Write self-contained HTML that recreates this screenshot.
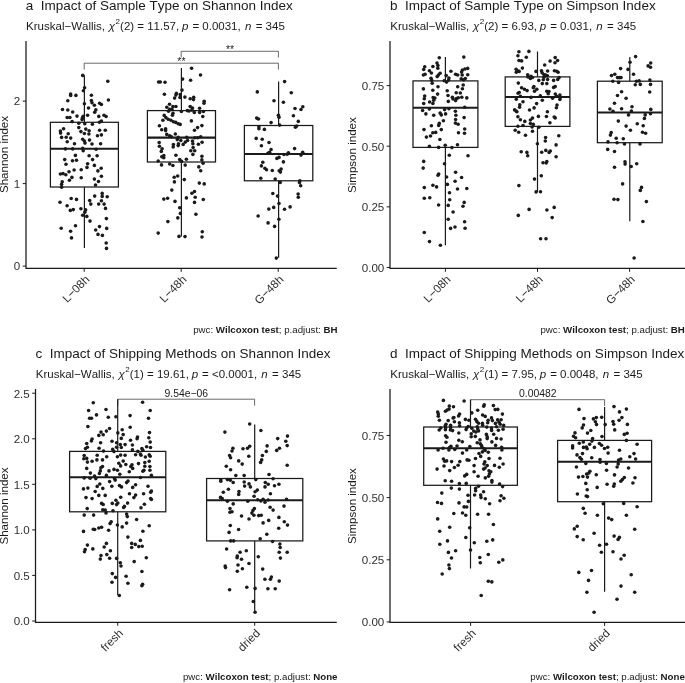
<!DOCTYPE html>
<html><head><meta charset="utf-8"><title>Alpha diversity</title>
<style>html,body{margin:0;padding:0;background:#fff}svg{display:block;will-change:transform}text{font-family:"Liberation Sans", sans-serif;fill:#1a1a1a;font-kerning:none}.ti{font-size:13.5px}.su{font-size:11.5px}.ax{font-size:11.6px;fill:#303030}.yl{font-size:11.55px}.cp{font-size:9.7px}.br{font-size:10.4px}.ln{stroke:#1a1a1a;fill:none}.d{fill:#1a1a1a}</style></head><body>
<svg width="685" height="683" viewBox="0 0 685 683">
<rect x="0" y="0" width="685" height="683" fill="#ffffff"/>
<g id="panel-a">
<text class="ti" x="25.7" y="9.6" xml:space="preserve">a  Impact of Sample Type on Shannon Index</text>
<text class="su" x="26.1" y="29.7" xml:space="preserve">Kruskal−Wallis, <tspan dx="0.6" font-style="italic">χ</tspan><tspan dx="0.5" dy="-5.7" font-size="8px">2</tspan><tspan dx="0.0" dy="5.7">(2) = 11.57, </tspan><tspan dx="-0.4" font-style="italic">p</tspan><tspan dx="0.8"> = 0.0031, </tspan><tspan dx="1.0" font-style="italic">n</tspan><tspan dx="1.2"> = 345</tspan></text>
<path class="ln" stroke-width="1.2" d="M84.4 75.3V122.3M84.4 187.0V248.1"/>
<rect class="ln" stroke-width="1.25" x="50.4" y="122.3" width="68.0" height="64.7" fill="#fff"/>
<path class="ln" stroke-width="2.1" d="M50.4 148.7H118.4"/>
<path class="ln" stroke-width="1.2" d="M181.4 68.0V110.6M181.4 162.0V236.6"/>
<rect class="ln" stroke-width="1.25" x="147.4" y="110.6" width="68.1" height="51.4" fill="#fff"/>
<path class="ln" stroke-width="2.1" d="M147.4 137.6H215.5"/>
<path class="ln" stroke-width="1.2" d="M278.6 81.6V125.5M278.6 180.85V257.7"/>
<rect class="ln" stroke-width="1.25" x="244.4" y="125.5" width="68.4" height="55.3" fill="#fff"/>
<path class="ln" stroke-width="2.1" d="M244.4 154.0H312.8"/>
<g class="d"><circle cx="82.7" cy="75.4" r="1.8"/><circle cx="107.8" cy="81.2" r="1.8"/><circle cx="84.6" cy="87.7" r="1.8"/><circle cx="83.4" cy="90.7" r="1.8"/><circle cx="70.6" cy="94.1" r="1.8"/><circle cx="70.7" cy="95.5" r="1.8"/><circle cx="75.9" cy="95.4" r="1.8"/><circle cx="91.4" cy="95.2" r="1.8"/><circle cx="67.8" cy="100.7" r="1.8"/><circle cx="108.4" cy="100.0" r="1.8"/><circle cx="91.4" cy="100.5" r="1.8"/><circle cx="92.0" cy="102.7" r="1.8"/><circle cx="94.4" cy="105.2" r="1.8"/><circle cx="99.6" cy="103.2" r="1.8"/><circle cx="101.4" cy="104.5" r="1.8"/><circle cx="84.4" cy="103.8" r="1.8"/><circle cx="88.5" cy="108.0" r="1.8"/><circle cx="62.5" cy="109.5" r="1.8"/><circle cx="67.8" cy="110.0" r="1.8"/><circle cx="72.7" cy="112.0" r="1.8"/><circle cx="95.8" cy="109.9" r="1.8"/><circle cx="94.7" cy="112.3" r="1.8"/><circle cx="87.6" cy="115.3" r="1.8"/><circle cx="77.0" cy="116.1" r="1.8"/><circle cx="83.2" cy="116.4" r="1.8"/><circle cx="82.4" cy="117.9" r="1.8"/><circle cx="67.2" cy="117.5" r="1.8"/><circle cx="69.9" cy="117.5" r="1.8"/><circle cx="98.8" cy="116.4" r="1.8"/><circle cx="104.0" cy="115.2" r="1.8"/><circle cx="106.1" cy="116.5" r="1.8"/><circle cx="82.1" cy="119.6" r="1.8"/><circle cx="101.4" cy="121.0" r="1.8"/><circle cx="72.1" cy="121.6" r="1.8"/><circle cx="99.4" cy="122.2" r="1.8"/><circle cx="78.8" cy="123.2" r="1.8"/><circle cx="84.8" cy="123.7" r="1.8"/><circle cx="92.4" cy="124.3" r="1.8"/><circle cx="63.6" cy="128.7" r="1.8"/><circle cx="78.8" cy="127.6" r="1.8"/><circle cx="85.8" cy="129.1" r="1.8"/><circle cx="60.4" cy="131.0" r="1.8"/><circle cx="60.6" cy="133.1" r="1.8"/><circle cx="80.9" cy="131.6" r="1.8"/><circle cx="89.1" cy="130.8" r="1.8"/><circle cx="99.6" cy="130.2" r="1.8"/><circle cx="105.3" cy="130.2" r="1.8"/><circle cx="68.2" cy="133.7" r="1.8"/><circle cx="84.4" cy="133.5" r="1.8"/><circle cx="88.9" cy="134.0" r="1.8"/><circle cx="101.4" cy="134.9" r="1.8"/><circle cx="97.5" cy="135.8" r="1.8"/><circle cx="61.6" cy="137.4" r="1.8"/><circle cx="66.2" cy="137.2" r="1.8"/><circle cx="70.7" cy="138.1" r="1.8"/><circle cx="67.2" cy="141.7" r="1.8"/><circle cx="82.7" cy="139.3" r="1.8"/><circle cx="84.4" cy="141.1" r="1.8"/><circle cx="89.5" cy="140.1" r="1.8"/><circle cx="74.5" cy="143.7" r="1.8"/><circle cx="85.0" cy="143.1" r="1.8"/><circle cx="92.0" cy="144.0" r="1.8"/><circle cx="100.6" cy="143.7" r="1.8"/><circle cx="65.4" cy="148.9" r="1.8"/><circle cx="72.7" cy="148.9" r="1.8"/><circle cx="82.7" cy="148.4" r="1.8"/><circle cx="83.2" cy="150.7" r="1.8"/><circle cx="96.1" cy="149.3" r="1.8"/><circle cx="75.4" cy="155.4" r="1.8"/><circle cx="89.1" cy="155.7" r="1.8"/><circle cx="97.1" cy="155.7" r="1.8"/><circle cx="64.7" cy="159.6" r="1.8"/><circle cx="72.5" cy="160.8" r="1.8"/><circle cx="76.5" cy="160.2" r="1.8"/><circle cx="92.6" cy="159.6" r="1.8"/><circle cx="66.0" cy="164.2" r="1.8"/><circle cx="87.6" cy="163.7" r="1.8"/><circle cx="94.4" cy="165.4" r="1.8"/><circle cx="87.0" cy="167.4" r="1.8"/><circle cx="101.2" cy="168.2" r="1.8"/><circle cx="74.1" cy="170.0" r="1.8"/><circle cx="81.2" cy="169.8" r="1.8"/><circle cx="69.0" cy="171.8" r="1.8"/><circle cx="97.9" cy="170.9" r="1.8"/><circle cx="60.4" cy="174.0" r="1.8"/><circle cx="63.0" cy="173.6" r="1.8"/><circle cx="65.8" cy="174.8" r="1.8"/><circle cx="71.9" cy="177.4" r="1.8"/><circle cx="81.2" cy="177.7" r="1.8"/><circle cx="101.4" cy="176.2" r="1.8"/><circle cx="94.4" cy="179.1" r="1.8"/><circle cx="69.4" cy="180.3" r="1.8"/><circle cx="98.5" cy="181.5" r="1.8"/><circle cx="62.2" cy="181.8" r="1.8"/><circle cx="61.6" cy="184.4" r="1.8"/><circle cx="95.5" cy="185.0" r="1.8"/><circle cx="61.6" cy="187.3" r="1.8"/><circle cx="102.2" cy="193.4" r="1.8"/><circle cx="94.7" cy="196.1" r="1.8"/><circle cx="102.2" cy="196.4" r="1.8"/><circle cx="107.2" cy="196.7" r="1.8"/><circle cx="71.2" cy="198.5" r="1.8"/><circle cx="76.5" cy="199.4" r="1.8"/><circle cx="89.7" cy="200.6" r="1.8"/><circle cx="101.4" cy="200.8" r="1.8"/><circle cx="60.0" cy="202.3" r="1.8"/><circle cx="90.8" cy="204.1" r="1.8"/><circle cx="98.7" cy="204.1" r="1.8"/><circle cx="104.1" cy="204.1" r="1.8"/><circle cx="67.1" cy="205.8" r="1.8"/><circle cx="105.5" cy="208.4" r="1.8"/><circle cx="80.9" cy="208.8" r="1.8"/><circle cx="73.3" cy="209.6" r="1.8"/><circle cx="70.3" cy="210.4" r="1.8"/><circle cx="85.6" cy="209.9" r="1.8"/><circle cx="84.8" cy="212.3" r="1.8"/><circle cx="82.7" cy="215.2" r="1.8"/><circle cx="86.8" cy="216.4" r="1.8"/><circle cx="106.4" cy="218.6" r="1.8"/><circle cx="90.0" cy="221.1" r="1.8"/><circle cx="75.5" cy="225.7" r="1.8"/><circle cx="61.2" cy="228.2" r="1.8"/><circle cx="70.6" cy="231.2" r="1.8"/><circle cx="71.5" cy="237.9" r="1.8"/><circle cx="99.5" cy="226.6" r="1.8"/><circle cx="95.7" cy="230.0" r="1.8"/><circle cx="106.7" cy="228.4" r="1.8"/><circle cx="98.0" cy="234.4" r="1.8"/><circle cx="102.4" cy="235.4" r="1.8"/><circle cx="106.2" cy="243.0" r="1.8"/><circle cx="106.5" cy="248.4" r="1.8"/><circle cx="191.6" cy="68.2" r="1.8"/><circle cx="200.5" cy="75.0" r="1.8"/><circle cx="182.6" cy="79.1" r="1.8"/><circle cx="190.6" cy="80.3" r="1.8"/><circle cx="158.6" cy="82.0" r="1.8"/><circle cx="160.3" cy="82.0" r="1.8"/><circle cx="165.0" cy="82.2" r="1.8"/><circle cx="182.0" cy="90.1" r="1.8"/><circle cx="164.4" cy="94.2" r="1.8"/><circle cx="176.4" cy="93.4" r="1.8"/><circle cx="175.9" cy="95.1" r="1.8"/><circle cx="174.6" cy="98.1" r="1.8"/><circle cx="180.2" cy="94.5" r="1.8"/><circle cx="180.0" cy="97.5" r="1.8"/><circle cx="184.9" cy="97.1" r="1.8"/><circle cx="190.2" cy="98.7" r="1.8"/><circle cx="193.7" cy="97.2" r="1.8"/><circle cx="193.5" cy="99.6" r="1.8"/><circle cx="204.2" cy="101.2" r="1.8"/><circle cx="204.0" cy="103.3" r="1.8"/><circle cx="169.5" cy="104.3" r="1.8"/><circle cx="166.8" cy="107.2" r="1.8"/><circle cx="172.9" cy="106.6" r="1.8"/><circle cx="175.9" cy="106.5" r="1.8"/><circle cx="190.2" cy="106.6" r="1.8"/><circle cx="192.5" cy="108.0" r="1.8"/><circle cx="199.6" cy="108.3" r="1.8"/><circle cx="169.7" cy="109.2" r="1.8"/><circle cx="172.0" cy="109.4" r="1.8"/><circle cx="168.5" cy="111.2" r="1.8"/><circle cx="181.4" cy="111.5" r="1.8"/><circle cx="187.3" cy="110.6" r="1.8"/><circle cx="189.0" cy="111.0" r="1.8"/><circle cx="191.9" cy="110.1" r="1.8"/><circle cx="194.3" cy="112.4" r="1.8"/><circle cx="199.6" cy="112.4" r="1.8"/><circle cx="203.4" cy="111.5" r="1.8"/><circle cx="173.0" cy="113.3" r="1.8"/><circle cx="172.4" cy="115.3" r="1.8"/><circle cx="164.2" cy="115.4" r="1.8"/><circle cx="202.8" cy="116.5" r="1.8"/><circle cx="165.9" cy="117.6" r="1.8"/><circle cx="168.2" cy="119.2" r="1.8"/><circle cx="170.9" cy="120.3" r="1.8"/><circle cx="173.4" cy="121.7" r="1.8"/><circle cx="175.8" cy="122.4" r="1.8"/><circle cx="178.2" cy="123.8" r="1.8"/><circle cx="180.2" cy="124.4" r="1.8"/><circle cx="162.9" cy="120.3" r="1.8"/><circle cx="191.4" cy="120.9" r="1.8"/><circle cx="159.4" cy="125.8" r="1.8"/><circle cx="201.9" cy="125.6" r="1.8"/><circle cx="197.6" cy="127.6" r="1.8"/><circle cx="161.7" cy="129.7" r="1.8"/><circle cx="165.6" cy="128.9" r="1.8"/><circle cx="165.6" cy="130.6" r="1.8"/><circle cx="194.5" cy="130.3" r="1.8"/><circle cx="175.3" cy="134.0" r="1.8"/><circle cx="166.8" cy="134.4" r="1.8"/><circle cx="169.7" cy="135.9" r="1.8"/><circle cx="171.4" cy="136.7" r="1.8"/><circle cx="200.7" cy="136.7" r="1.8"/><circle cx="178.2" cy="137.3" r="1.8"/><circle cx="186.7" cy="137.3" r="1.8"/><circle cx="194.9" cy="137.7" r="1.8"/><circle cx="197.8" cy="137.7" r="1.8"/><circle cx="177.3" cy="139.6" r="1.8"/><circle cx="180.8" cy="140.5" r="1.8"/><circle cx="187.6" cy="140.5" r="1.8"/><circle cx="185.3" cy="142.1" r="1.8"/><circle cx="183.2" cy="144.4" r="1.8"/><circle cx="192.5" cy="141.1" r="1.8"/><circle cx="192.9" cy="143.8" r="1.8"/><circle cx="159.2" cy="142.5" r="1.8"/><circle cx="202.1" cy="142.3" r="1.8"/><circle cx="198.4" cy="144.3" r="1.8"/><circle cx="173.4" cy="144.6" r="1.8"/><circle cx="173.2" cy="147.0" r="1.8"/><circle cx="178.5" cy="143.8" r="1.8"/><circle cx="178.2" cy="145.6" r="1.8"/><circle cx="159.4" cy="146.2" r="1.8"/><circle cx="193.1" cy="147.6" r="1.8"/><circle cx="162.1" cy="148.7" r="1.8"/><circle cx="161.3" cy="151.4" r="1.8"/><circle cx="190.8" cy="150.7" r="1.8"/><circle cx="194.7" cy="150.8" r="1.8"/><circle cx="192.9" cy="154.4" r="1.8"/><circle cx="175.9" cy="155.2" r="1.8"/><circle cx="163.8" cy="155.5" r="1.8"/><circle cx="161.8" cy="156.7" r="1.8"/><circle cx="163.8" cy="157.8" r="1.8"/><circle cx="201.9" cy="156.3" r="1.8"/><circle cx="186.4" cy="159.3" r="1.8"/><circle cx="179.7" cy="159.6" r="1.8"/><circle cx="201.9" cy="159.9" r="1.8"/><circle cx="158.2" cy="161.0" r="1.8"/><circle cx="181.6" cy="161.4" r="1.8"/><circle cx="203.1" cy="163.2" r="1.8"/><circle cx="161.5" cy="164.9" r="1.8"/><circle cx="169.7" cy="164.0" r="1.8"/><circle cx="172.9" cy="165.5" r="1.8"/><circle cx="185.2" cy="165.1" r="1.8"/><circle cx="198.8" cy="166.9" r="1.8"/><circle cx="200.7" cy="170.8" r="1.8"/><circle cx="177.7" cy="176.0" r="1.8"/><circle cx="174.2" cy="177.2" r="1.8"/><circle cx="184.3" cy="179.6" r="1.8"/><circle cx="174.4" cy="181.9" r="1.8"/><circle cx="199.3" cy="183.1" r="1.8"/><circle cx="204.2" cy="183.9" r="1.8"/><circle cx="171.8" cy="190.1" r="1.8"/><circle cx="194.5" cy="191.5" r="1.8"/><circle cx="191.9" cy="193.2" r="1.8"/><circle cx="167.6" cy="198.3" r="1.8"/><circle cx="163.8" cy="199.1" r="1.8"/><circle cx="186.4" cy="197.9" r="1.8"/><circle cx="195.2" cy="197.3" r="1.8"/><circle cx="203.3" cy="199.5" r="1.8"/><circle cx="175.0" cy="201.4" r="1.8"/><circle cx="194.5" cy="202.4" r="1.8"/><circle cx="179.7" cy="207.7" r="1.8"/><circle cx="180.4" cy="213.4" r="1.8"/><circle cx="195.9" cy="214.2" r="1.8"/><circle cx="177.8" cy="217.9" r="1.8"/><circle cx="167.9" cy="221.6" r="1.8"/><circle cx="158.2" cy="233.1" r="1.8"/><circle cx="202.3" cy="231.8" r="1.8"/><circle cx="179.0" cy="236.4" r="1.8"/><circle cx="185.0" cy="236.6" r="1.8"/><circle cx="202.0" cy="237.0" r="1.8"/><circle cx="284.6" cy="81.6" r="1.8"/><circle cx="257.3" cy="91.9" r="1.8"/><circle cx="291.3" cy="92.7" r="1.8"/><circle cx="274.0" cy="100.7" r="1.8"/><circle cx="283.4" cy="102.3" r="1.8"/><circle cx="302.8" cy="106.8" r="1.8"/><circle cx="301.0" cy="109.5" r="1.8"/><circle cx="295.0" cy="108.5" r="1.8"/><circle cx="278.4" cy="115.2" r="1.8"/><circle cx="279.0" cy="117.3" r="1.8"/><circle cx="293.4" cy="115.8" r="1.8"/><circle cx="256.7" cy="118.1" r="1.8"/><circle cx="258.5" cy="119.0" r="1.8"/><circle cx="298.3" cy="121.4" r="1.8"/><circle cx="271.1" cy="122.6" r="1.8"/><circle cx="279.6" cy="125.1" r="1.8"/><circle cx="258.9" cy="126.7" r="1.8"/><circle cx="258.9" cy="128.8" r="1.8"/><circle cx="296.6" cy="126.1" r="1.8"/><circle cx="295.4" cy="127.2" r="1.8"/><circle cx="264.4" cy="129.4" r="1.8"/><circle cx="256.2" cy="138.4" r="1.8"/><circle cx="262.2" cy="139.2" r="1.8"/><circle cx="269.0" cy="142.5" r="1.8"/><circle cx="261.4" cy="145.7" r="1.8"/><circle cx="271.1" cy="149.5" r="1.8"/><circle cx="294.6" cy="148.6" r="1.8"/><circle cx="269.6" cy="152.2" r="1.8"/><circle cx="267.9" cy="153.3" r="1.8"/><circle cx="288.4" cy="152.7" r="1.8"/><circle cx="287.2" cy="154.2" r="1.8"/><circle cx="284.0" cy="154.5" r="1.8"/><circle cx="302.7" cy="152.2" r="1.8"/><circle cx="301.0" cy="155.1" r="1.8"/><circle cx="279.0" cy="157.4" r="1.8"/><circle cx="276.9" cy="158.4" r="1.8"/><circle cx="283.4" cy="161.9" r="1.8"/><circle cx="262.8" cy="162.3" r="1.8"/><circle cx="261.4" cy="165.9" r="1.8"/><circle cx="264.9" cy="168.2" r="1.8"/><circle cx="266.5" cy="169.7" r="1.8"/><circle cx="272.3" cy="170.5" r="1.8"/><circle cx="281.1" cy="169.1" r="1.8"/><circle cx="279.2" cy="170.7" r="1.8"/><circle cx="280.4" cy="172.1" r="1.8"/><circle cx="260.8" cy="178.2" r="1.8"/><circle cx="275.2" cy="179.1" r="1.8"/><circle cx="280.2" cy="182.4" r="1.8"/><circle cx="299.8" cy="180.8" r="1.8"/><circle cx="299.5" cy="182.6" r="1.8"/><circle cx="300.7" cy="185.8" r="1.8"/><circle cx="272.8" cy="193.5" r="1.8"/><circle cx="298.1" cy="194.0" r="1.8"/><circle cx="277.5" cy="196.1" r="1.8"/><circle cx="298.3" cy="197.2" r="1.8"/><circle cx="279.0" cy="203.5" r="1.8"/><circle cx="273.7" cy="207.4" r="1.8"/><circle cx="290.1" cy="206.9" r="1.8"/><circle cx="268.8" cy="209.1" r="1.8"/><circle cx="284.5" cy="209.2" r="1.8"/><circle cx="258.1" cy="216.0" r="1.8"/><circle cx="278.9" cy="219.2" r="1.8"/><circle cx="268.1" cy="222.9" r="1.8"/><circle cx="274.6" cy="226.4" r="1.8"/><circle cx="276.3" cy="258.1" r="1.8"/></g>
<path class="ln" stroke="#303030" stroke-width="1.25" d="M26.0 41.1V268.35M25.4 268.35H336.8"/>
<path class="ln" stroke-width="1" d="M22.7 266.1H26.0"/>
<text class="ax" x="20.3" y="270.4" text-anchor="end">0</text>
<path class="ln" stroke-width="1" d="M22.7 183.6H26.0"/>
<text class="ax" x="20.3" y="187.9" text-anchor="end">1</text>
<path class="ln" stroke-width="1" d="M22.7 101.1H26.0"/>
<text class="ax" x="20.3" y="105.4" text-anchor="end">2</text>
<path class="ln" stroke-width="1" d="M84.2 268.35V271.8"/>
<text class="ax" text-anchor="end" transform="translate(90.2,280.1) rotate(-45)">L−08h</text>
<path class="ln" stroke-width="1" d="M181.2 268.35V271.8"/>
<text class="ax" text-anchor="end" transform="translate(187.2,280.1) rotate(-45)">L−48h</text>
<path class="ln" stroke-width="1" d="M278.2 268.35V271.8"/>
<text class="ax" text-anchor="end" transform="translate(284.2,280.1) rotate(-45)">G−48h</text>
<text class="yl" text-anchor="middle" transform="translate(8.3,154.5) rotate(-90)">Shannon index</text>
<path class="ln" stroke-width="0.65" d="M84.2 69.6V63.2H278.4V69.6"/>
<text class="br" text-anchor="middle" x="181.4" y="65.2">**</text>
<path class="ln" stroke-width="0.65" d="M181.2 57.5V51.3H278.4V57.5"/>
<text class="br" text-anchor="middle" x="230.0" y="52.9">**</text>
<text class="cp" text-anchor="end" x="337.5" y="332.7" xml:space="preserve">pwc: <tspan font-weight="bold">Wilcoxon test</tspan>; p.adjust: <tspan font-weight="bold">BH</tspan></text>
</g>
<g id="panel-b">
<text class="ti" x="390.0" y="9.6" xml:space="preserve">b  Impact of Sample Type on Simpson Index</text>
<text class="su" x="390.3" y="29.7" xml:space="preserve">Kruskal−Wallis, <tspan dx="0.6" font-style="italic">χ</tspan><tspan dx="0.5" dy="-5.7" font-size="8px">2</tspan><tspan dx="0.0" dy="5.7">(2) = 6.93, </tspan><tspan dx="-0.4" font-style="italic">p</tspan><tspan dx="0.8"> = 0.031, </tspan><tspan dx="1.0" font-style="italic">n</tspan><tspan dx="1.2"> = 345</tspan></text>
<path class="ln" stroke-width="1.2" d="M445.4 57.1V80.9M445.4 147.4V245.3"/>
<rect class="ln" stroke-width="1.25" x="413.0" y="80.9" width="64.9" height="66.5" fill="#fff"/>
<path class="ln" stroke-width="2.1" d="M413.0 107.8H477.9"/>
<path class="ln" stroke-width="1.2" d="M537.5 51.5V76.9M537.5 126.4V191.7"/>
<rect class="ln" stroke-width="1.25" x="505.2" y="76.9" width="64.7" height="49.5" fill="#fff"/>
<path class="ln" stroke-width="2.1" d="M505.2 97.0H569.9"/>
<path class="ln" stroke-width="1.2" d="M629.8 56.9V81.2M629.8 142.7V221.2"/>
<rect class="ln" stroke-width="1.25" x="597.4" y="81.2" width="64.8" height="61.5" fill="#fff"/>
<path class="ln" stroke-width="2.1" d="M597.4 112.5H662.2"/>
<g class="d"><circle cx="439.3" cy="57.8" r="1.8"/><circle cx="463.8" cy="57.1" r="1.8"/><circle cx="437.0" cy="63.1" r="1.8"/><circle cx="437.9" cy="65.5" r="1.8"/><circle cx="437.8" cy="68.2" r="1.8"/><circle cx="432.9" cy="66.5" r="1.8"/><circle cx="424.7" cy="66.8" r="1.8"/><circle cx="423.7" cy="69.5" r="1.8"/><circle cx="429.4" cy="70.7" r="1.8"/><circle cx="431.4" cy="73.0" r="1.8"/><circle cx="423.4" cy="75.0" r="1.8"/><circle cx="425.1" cy="74.2" r="1.8"/><circle cx="440.1" cy="73.3" r="1.8"/><circle cx="438.4" cy="75.0" r="1.8"/><circle cx="437.2" cy="76.6" r="1.8"/><circle cx="450.9" cy="71.3" r="1.8"/><circle cx="467.7" cy="68.4" r="1.8"/><circle cx="465.0" cy="69.0" r="1.8"/><circle cx="462.4" cy="70.0" r="1.8"/><circle cx="461.6" cy="72.1" r="1.8"/><circle cx="455.6" cy="74.2" r="1.8"/><circle cx="457.7" cy="75.0" r="1.8"/><circle cx="462.2" cy="75.0" r="1.8"/><circle cx="467.7" cy="74.8" r="1.8"/><circle cx="465.3" cy="78.5" r="1.8"/><circle cx="463.6" cy="79.7" r="1.8"/><circle cx="461.2" cy="78.9" r="1.8"/><circle cx="431.0" cy="78.2" r="1.8"/><circle cx="431.7" cy="80.3" r="1.8"/><circle cx="432.2" cy="83.2" r="1.8"/><circle cx="446.2" cy="75.6" r="1.8"/><circle cx="448.9" cy="78.0" r="1.8"/><circle cx="448.6" cy="80.1" r="1.8"/><circle cx="446.6" cy="82.1" r="1.8"/><circle cx="444.2" cy="80.7" r="1.8"/><circle cx="463.2" cy="85.0" r="1.8"/><circle cx="462.4" cy="88.7" r="1.8"/><circle cx="457.7" cy="86.8" r="1.8"/><circle cx="438.0" cy="86.8" r="1.8"/><circle cx="423.4" cy="88.9" r="1.8"/><circle cx="432.8" cy="90.3" r="1.8"/><circle cx="447.2" cy="90.8" r="1.8"/><circle cx="456.2" cy="92.8" r="1.8"/><circle cx="460.3" cy="93.0" r="1.8"/><circle cx="437.6" cy="94.1" r="1.8"/><circle cx="448.0" cy="95.5" r="1.8"/><circle cx="424.7" cy="96.1" r="1.8"/><circle cx="424.3" cy="98.8" r="1.8"/><circle cx="452.4" cy="97.3" r="1.8"/><circle cx="453.0" cy="99.0" r="1.8"/><circle cx="456.5" cy="98.5" r="1.8"/><circle cx="458.3" cy="97.7" r="1.8"/><circle cx="455.6" cy="100.6" r="1.8"/><circle cx="461.8" cy="97.3" r="1.8"/><circle cx="466.8" cy="97.9" r="1.8"/><circle cx="433.1" cy="97.5" r="1.8"/><circle cx="434.9" cy="98.1" r="1.8"/><circle cx="433.7" cy="100.2" r="1.8"/><circle cx="429.6" cy="102.0" r="1.8"/><circle cx="432.9" cy="103.4" r="1.8"/><circle cx="423.7" cy="103.5" r="1.8"/><circle cx="448.3" cy="101.4" r="1.8"/><circle cx="464.7" cy="107.2" r="1.8"/><circle cx="448.9" cy="108.8" r="1.8"/><circle cx="444.6" cy="109.6" r="1.8"/><circle cx="429.4" cy="109.0" r="1.8"/><circle cx="422.6" cy="110.5" r="1.8"/><circle cx="425.9" cy="113.9" r="1.8"/><circle cx="455.4" cy="111.3" r="1.8"/><circle cx="433.7" cy="115.2" r="1.8"/><circle cx="440.1" cy="113.1" r="1.8"/><circle cx="441.3" cy="114.9" r="1.8"/><circle cx="445.6" cy="113.9" r="1.8"/><circle cx="455.9" cy="115.2" r="1.8"/><circle cx="464.1" cy="117.6" r="1.8"/><circle cx="455.6" cy="119.5" r="1.8"/><circle cx="443.4" cy="120.7" r="1.8"/><circle cx="439.3" cy="123.4" r="1.8"/><circle cx="455.4" cy="123.1" r="1.8"/><circle cx="458.1" cy="124.3" r="1.8"/><circle cx="438.7" cy="125.4" r="1.8"/><circle cx="431.4" cy="125.7" r="1.8"/><circle cx="424.0" cy="129.6" r="1.8"/><circle cx="441.3" cy="129.6" r="1.8"/><circle cx="464.7" cy="129.0" r="1.8"/><circle cx="435.7" cy="132.4" r="1.8"/><circle cx="432.8" cy="132.7" r="1.8"/><circle cx="458.5" cy="132.7" r="1.8"/><circle cx="464.5" cy="133.3" r="1.8"/><circle cx="430.5" cy="136.0" r="1.8"/><circle cx="426.4" cy="137.1" r="1.8"/><circle cx="439.9" cy="139.5" r="1.8"/><circle cx="457.5" cy="144.7" r="1.8"/><circle cx="445.2" cy="145.3" r="1.8"/><circle cx="429.4" cy="146.4" r="1.8"/><circle cx="438.6" cy="147.4" r="1.8"/><circle cx="451.9" cy="147.6" r="1.8"/><circle cx="449.3" cy="155.2" r="1.8"/><circle cx="468.0" cy="155.8" r="1.8"/><circle cx="423.7" cy="161.4" r="1.8"/><circle cx="444.5" cy="163.8" r="1.8"/><circle cx="423.2" cy="168.1" r="1.8"/><circle cx="455.6" cy="172.3" r="1.8"/><circle cx="438.7" cy="174.0" r="1.8"/><circle cx="438.0" cy="175.3" r="1.8"/><circle cx="446.6" cy="177.0" r="1.8"/><circle cx="461.6" cy="177.5" r="1.8"/><circle cx="455.1" cy="181.3" r="1.8"/><circle cx="447.4" cy="184.4" r="1.8"/><circle cx="432.9" cy="185.2" r="1.8"/><circle cx="436.6" cy="186.9" r="1.8"/><circle cx="424.3" cy="187.6" r="1.8"/><circle cx="457.5" cy="189.0" r="1.8"/><circle cx="466.8" cy="188.5" r="1.8"/><circle cx="449.5" cy="192.7" r="1.8"/><circle cx="424.3" cy="198.2" r="1.8"/><circle cx="429.8" cy="197.7" r="1.8"/><circle cx="449.7" cy="199.8" r="1.8"/><circle cx="464.2" cy="202.4" r="1.8"/><circle cx="438.6" cy="205.0" r="1.8"/><circle cx="448.2" cy="205.4" r="1.8"/><circle cx="463.0" cy="206.2" r="1.8"/><circle cx="453.1" cy="212.0" r="1.8"/><circle cx="448.2" cy="219.3" r="1.8"/><circle cx="464.6" cy="221.7" r="1.8"/><circle cx="455.0" cy="227.0" r="1.8"/><circle cx="450.6" cy="228.4" r="1.8"/><circle cx="465.1" cy="228.2" r="1.8"/><circle cx="424.3" cy="232.5" r="1.8"/><circle cx="429.5" cy="241.6" r="1.8"/><circle cx="440.4" cy="245.3" r="1.8"/><circle cx="518.9" cy="51.7" r="1.8"/><circle cx="528.9" cy="51.4" r="1.8"/><circle cx="517.9" cy="55.8" r="1.8"/><circle cx="526.3" cy="57.2" r="1.8"/><circle cx="519.0" cy="60.5" r="1.8"/><circle cx="521.6" cy="60.9" r="1.8"/><circle cx="555.2" cy="57.6" r="1.8"/><circle cx="557.6" cy="60.5" r="1.8"/><circle cx="550.1" cy="61.1" r="1.8"/><circle cx="555.0" cy="62.8" r="1.8"/><circle cx="544.7" cy="65.0" r="1.8"/><circle cx="522.4" cy="68.1" r="1.8"/><circle cx="516.1" cy="69.3" r="1.8"/><circle cx="517.9" cy="71.0" r="1.8"/><circle cx="516.3" cy="72.2" r="1.8"/><circle cx="519.2" cy="71.4" r="1.8"/><circle cx="536.0" cy="71.4" r="1.8"/><circle cx="541.5" cy="70.7" r="1.8"/><circle cx="542.1" cy="72.8" r="1.8"/><circle cx="547.6" cy="71.0" r="1.8"/><circle cx="554.4" cy="70.7" r="1.8"/><circle cx="556.7" cy="71.3" r="1.8"/><circle cx="558.1" cy="72.2" r="1.8"/><circle cx="527.7" cy="74.8" r="1.8"/><circle cx="528.0" cy="76.9" r="1.8"/><circle cx="531.0" cy="76.3" r="1.8"/><circle cx="530.4" cy="78.4" r="1.8"/><circle cx="532.5" cy="77.5" r="1.8"/><circle cx="543.9" cy="74.5" r="1.8"/><circle cx="545.6" cy="75.1" r="1.8"/><circle cx="543.9" cy="77.2" r="1.8"/><circle cx="547.4" cy="75.7" r="1.8"/><circle cx="559.1" cy="77.5" r="1.8"/><circle cx="557.7" cy="79.5" r="1.8"/><circle cx="538.8" cy="80.4" r="1.8"/><circle cx="543.3" cy="79.8" r="1.8"/><circle cx="547.6" cy="79.5" r="1.8"/><circle cx="553.6" cy="80.4" r="1.8"/><circle cx="518.3" cy="83.1" r="1.8"/><circle cx="542.3" cy="83.6" r="1.8"/><circle cx="546.8" cy="83.6" r="1.8"/><circle cx="533.9" cy="86.5" r="1.8"/><circle cx="533.3" cy="87.8" r="1.8"/><circle cx="555.2" cy="86.6" r="1.8"/><circle cx="553.6" cy="87.4" r="1.8"/><circle cx="521.6" cy="87.7" r="1.8"/><circle cx="524.5" cy="89.2" r="1.8"/><circle cx="527.1" cy="90.6" r="1.8"/><circle cx="536.8" cy="89.2" r="1.8"/><circle cx="534.5" cy="91.2" r="1.8"/><circle cx="546.8" cy="91.2" r="1.8"/><circle cx="548.9" cy="91.5" r="1.8"/><circle cx="548.2" cy="93.7" r="1.8"/><circle cx="519.2" cy="92.5" r="1.8"/><circle cx="518.1" cy="93.3" r="1.8"/><circle cx="540.3" cy="95.9" r="1.8"/><circle cx="520.4" cy="96.2" r="1.8"/><circle cx="531.0" cy="97.4" r="1.8"/><circle cx="555.3" cy="94.1" r="1.8"/><circle cx="556.7" cy="96.2" r="1.8"/><circle cx="559.9" cy="95.0" r="1.8"/><circle cx="560.2" cy="97.4" r="1.8"/><circle cx="559.9" cy="99.5" r="1.8"/><circle cx="552.6" cy="98.2" r="1.8"/><circle cx="516.3" cy="99.2" r="1.8"/><circle cx="542.3" cy="100.3" r="1.8"/><circle cx="523.0" cy="101.8" r="1.8"/><circle cx="536.6" cy="103.6" r="1.8"/><circle cx="519.8" cy="104.7" r="1.8"/><circle cx="519.6" cy="107.3" r="1.8"/><circle cx="557.0" cy="105.0" r="1.8"/><circle cx="556.4" cy="107.7" r="1.8"/><circle cx="534.1" cy="107.9" r="1.8"/><circle cx="529.5" cy="110.0" r="1.8"/><circle cx="514.6" cy="109.9" r="1.8"/><circle cx="516.1" cy="111.1" r="1.8"/><circle cx="516.9" cy="111.8" r="1.8"/><circle cx="547.4" cy="111.8" r="1.8"/><circle cx="517.9" cy="116.7" r="1.8"/><circle cx="538.4" cy="116.4" r="1.8"/><circle cx="546.4" cy="116.5" r="1.8"/><circle cx="554.2" cy="117.0" r="1.8"/><circle cx="555.2" cy="117.9" r="1.8"/><circle cx="532.5" cy="118.1" r="1.8"/><circle cx="520.4" cy="119.7" r="1.8"/><circle cx="530.4" cy="120.0" r="1.8"/><circle cx="524.8" cy="121.4" r="1.8"/><circle cx="549.9" cy="122.7" r="1.8"/><circle cx="530.4" cy="123.5" r="1.8"/><circle cx="533.3" cy="124.4" r="1.8"/><circle cx="523.0" cy="125.5" r="1.8"/><circle cx="517.9" cy="126.2" r="1.8"/><circle cx="532.1" cy="127.0" r="1.8"/><circle cx="538.8" cy="127.2" r="1.8"/><circle cx="515.2" cy="130.3" r="1.8"/><circle cx="518.7" cy="132.2" r="1.8"/><circle cx="532.5" cy="131.3" r="1.8"/><circle cx="525.5" cy="135.2" r="1.8"/><circle cx="558.8" cy="135.8" r="1.8"/><circle cx="545.6" cy="137.5" r="1.8"/><circle cx="545.3" cy="141.0" r="1.8"/><circle cx="537.4" cy="143.7" r="1.8"/><circle cx="556.1" cy="144.9" r="1.8"/><circle cx="545.8" cy="150.4" r="1.8"/><circle cx="550.3" cy="151.0" r="1.8"/><circle cx="549.1" cy="152.4" r="1.8"/><circle cx="521.2" cy="151.8" r="1.8"/><circle cx="526.9" cy="152.4" r="1.8"/><circle cx="541.7" cy="152.2" r="1.8"/><circle cx="527.7" cy="155.7" r="1.8"/><circle cx="556.1" cy="156.8" r="1.8"/><circle cx="546.8" cy="161.5" r="1.8"/><circle cx="546.2" cy="162.9" r="1.8"/><circle cx="543.0" cy="162.7" r="1.8"/><circle cx="541.3" cy="175.8" r="1.8"/><circle cx="534.5" cy="179.1" r="1.8"/><circle cx="518.9" cy="185.6" r="1.8"/><circle cx="536.1" cy="191.9" r="1.8"/><circle cx="540.5" cy="191.7" r="1.8"/><circle cx="554.2" cy="207.4" r="1.8"/><circle cx="529.1" cy="209.4" r="1.8"/><circle cx="546.9" cy="210.0" r="1.8"/><circle cx="518.3" cy="215.4" r="1.8"/><circle cx="552.2" cy="217.6" r="1.8"/><circle cx="540.6" cy="238.7" r="1.8"/><circle cx="546.0" cy="238.7" r="1.8"/><circle cx="635.6" cy="56.6" r="1.8"/><circle cx="630.0" cy="62.2" r="1.8"/><circle cx="650.7" cy="63.0" r="1.8"/><circle cx="648.1" cy="65.9" r="1.8"/><circle cx="650.5" cy="67.2" r="1.8"/><circle cx="620.6" cy="68.6" r="1.8"/><circle cx="628.0" cy="69.4" r="1.8"/><circle cx="633.5" cy="74.2" r="1.8"/><circle cx="614.8" cy="74.2" r="1.8"/><circle cx="611.5" cy="75.6" r="1.8"/><circle cx="617.5" cy="77.6" r="1.8"/><circle cx="619.2" cy="77.6" r="1.8"/><circle cx="621.0" cy="77.6" r="1.8"/><circle cx="612.8" cy="81.2" r="1.8"/><circle cx="618.6" cy="82.4" r="1.8"/><circle cx="649.9" cy="80.1" r="1.8"/><circle cx="636.4" cy="81.2" r="1.8"/><circle cx="639.1" cy="80.9" r="1.8"/><circle cx="635.3" cy="84.8" r="1.8"/><circle cx="640.3" cy="84.4" r="1.8"/><circle cx="650.5" cy="84.4" r="1.8"/><circle cx="621.6" cy="91.8" r="1.8"/><circle cx="649.7" cy="92.0" r="1.8"/><circle cx="617.5" cy="95.5" r="1.8"/><circle cx="626.1" cy="98.2" r="1.8"/><circle cx="614.5" cy="103.2" r="1.8"/><circle cx="632.0" cy="106.7" r="1.8"/><circle cx="609.9" cy="109.0" r="1.8"/><circle cx="621.6" cy="108.8" r="1.8"/><circle cx="650.8" cy="109.4" r="1.8"/><circle cx="613.0" cy="111.3" r="1.8"/><circle cx="631.4" cy="111.0" r="1.8"/><circle cx="628.5" cy="114.9" r="1.8"/><circle cx="645.2" cy="114.9" r="1.8"/><circle cx="650.5" cy="113.7" r="1.8"/><circle cx="644.4" cy="118.4" r="1.8"/><circle cx="618.3" cy="121.1" r="1.8"/><circle cx="637.3" cy="123.7" r="1.8"/><circle cx="626.1" cy="126.1" r="1.8"/><circle cx="643.2" cy="125.7" r="1.8"/><circle cx="630.4" cy="130.2" r="1.8"/><circle cx="642.5" cy="132.2" r="1.8"/><circle cx="645.6" cy="133.3" r="1.8"/><circle cx="611.2" cy="132.5" r="1.8"/><circle cx="610.4" cy="135.1" r="1.8"/><circle cx="616.2" cy="138.2" r="1.8"/><circle cx="623.3" cy="138.8" r="1.8"/><circle cx="608.0" cy="141.9" r="1.8"/><circle cx="617.1" cy="142.7" r="1.8"/><circle cx="624.5" cy="143.9" r="1.8"/><circle cx="640.0" cy="143.9" r="1.8"/><circle cx="607.7" cy="149.4" r="1.8"/><circle cx="614.5" cy="151.5" r="1.8"/><circle cx="625.0" cy="161.8" r="1.8"/><circle cx="625.1" cy="164.1" r="1.8"/><circle cx="636.7" cy="163.8" r="1.8"/><circle cx="631.2" cy="166.5" r="1.8"/><circle cx="614.5" cy="167.3" r="1.8"/><circle cx="622.6" cy="183.9" r="1.8"/><circle cx="641.5" cy="187.4" r="1.8"/><circle cx="640.3" cy="190.4" r="1.8"/><circle cx="614.0" cy="199.2" r="1.8"/><circle cx="617.9" cy="199.6" r="1.8"/><circle cx="646.4" cy="201.6" r="1.8"/><circle cx="642.9" cy="221.5" r="1.8"/><circle cx="634.1" cy="258.0" r="1.8"/></g>
<path class="ln" stroke="#303030" stroke-width="1.25" d="M390.0 41.1V268.35M389.4 268.35H686.0"/>
<path class="ln" stroke-width="1" d="M386.7 267.45H390.0"/>
<text class="ax" x="384.3" y="271.8" text-anchor="end">0.00</text>
<path class="ln" stroke-width="1" d="M386.7 206.85H390.0"/>
<text class="ax" x="384.3" y="211.2" text-anchor="end">0.25</text>
<path class="ln" stroke-width="1" d="M386.7 146.2H390.0"/>
<text class="ax" x="384.3" y="150.5" text-anchor="end">0.50</text>
<path class="ln" stroke-width="1" d="M386.7 85.6H390.0"/>
<text class="ax" x="384.3" y="89.9" text-anchor="end">0.75</text>
<path class="ln" stroke-width="1" d="M445.4 268.35V271.8"/>
<text class="ax" text-anchor="end" transform="translate(451.4,280.1) rotate(-45)">L−08h</text>
<path class="ln" stroke-width="1" d="M537.5 268.35V271.8"/>
<text class="ax" text-anchor="end" transform="translate(543.5,280.1) rotate(-45)">L−48h</text>
<path class="ln" stroke-width="1" d="M629.6 268.35V271.8"/>
<text class="ax" text-anchor="end" transform="translate(635.6,280.1) rotate(-45)">G−48h</text>
<text class="yl" text-anchor="middle" transform="translate(355.9,155.1) rotate(-90)">Simpson index</text>
<text class="cp" text-anchor="end" x="684.8" y="333.0" xml:space="preserve">pwc: <tspan font-weight="bold">Wilcoxon test</tspan>; p.adjust: <tspan font-weight="bold">BH</tspan></text>
</g>
<g id="panel-c">
<text class="ti" x="35.5" y="358.2" xml:space="preserve">c  Impact of Shipping Methods on Shannon Index</text>
<text class="su" x="35.8" y="377.7" xml:space="preserve">Kruskal−Wallis, <tspan dx="0.6" font-style="italic">χ</tspan><tspan dx="0.5" dy="-5.7" font-size="8px">2</tspan><tspan dx="0.0" dy="5.7">(1) = 19.61, </tspan><tspan dx="-0.4" font-style="italic">p</tspan><tspan dx="0.8"> = <0.0001, </tspan><tspan dx="1.0" font-style="italic">n</tspan><tspan dx="1.2"> = 345</tspan></text>
<path class="ln" stroke-width="1.2" d="M117.7 399.3V451.4M117.7 511.8V594.9"/>
<rect class="ln" stroke-width="1.25" x="69.6" y="451.4" width="96.2" height="60.4" fill="#fff"/>
<path class="ln" stroke-width="2.1" d="M69.6 477.2H165.8"/>
<path class="ln" stroke-width="1.2" d="M254.7 424.4V478.5M254.7 540.9V611.7"/>
<rect class="ln" stroke-width="1.25" x="206.6" y="478.5" width="96.2" height="62.4" fill="#fff"/>
<path class="ln" stroke-width="2.1" d="M206.6 500.3H302.8"/>
<g class="d"><circle cx="93.3" cy="402.7" r="1.8"/><circle cx="142.6" cy="402.2" r="1.8"/><circle cx="88.6" cy="410.5" r="1.8"/><circle cx="106.0" cy="409.5" r="1.8"/><circle cx="150.2" cy="410.5" r="1.8"/><circle cx="96.5" cy="414.9" r="1.8"/><circle cx="130.1" cy="415.6" r="1.8"/><circle cx="108.3" cy="417.3" r="1.8"/><circle cx="115.9" cy="416.8" r="1.8"/><circle cx="89.6" cy="418.3" r="1.8"/><circle cx="91.5" cy="418.3" r="1.8"/><circle cx="148.5" cy="418.3" r="1.8"/><circle cx="87.9" cy="426.6" r="1.8"/><circle cx="130.2" cy="427.3" r="1.8"/><circle cx="109.6" cy="428.5" r="1.8"/><circle cx="122.2" cy="429.7" r="1.8"/><circle cx="106.4" cy="431.1" r="1.8"/><circle cx="101.0" cy="432.1" r="1.8"/><circle cx="117.8" cy="432.9" r="1.8"/><circle cx="149.5" cy="432.6" r="1.8"/><circle cx="103.2" cy="434.8" r="1.8"/><circle cx="98.8" cy="435.4" r="1.8"/><circle cx="123.2" cy="434.6" r="1.8"/><circle cx="121.3" cy="438.4" r="1.8"/><circle cx="137.5" cy="437.0" r="1.8"/><circle cx="137.1" cy="438.7" r="1.8"/><circle cx="148.8" cy="437.7" r="1.8"/><circle cx="92.1" cy="439.0" r="1.8"/><circle cx="91.4" cy="440.9" r="1.8"/><circle cx="130.5" cy="440.2" r="1.8"/><circle cx="112.0" cy="441.3" r="1.8"/><circle cx="150.2" cy="442.1" r="1.8"/><circle cx="100.6" cy="442.7" r="1.8"/><circle cx="116.6" cy="442.8" r="1.8"/><circle cx="86.7" cy="443.5" r="1.8"/><circle cx="120.3" cy="444.6" r="1.8"/><circle cx="121.3" cy="447.5" r="1.8"/><circle cx="125.1" cy="444.6" r="1.8"/><circle cx="132.4" cy="445.0" r="1.8"/><circle cx="87.4" cy="447.2" r="1.8"/><circle cx="85.5" cy="448.6" r="1.8"/><circle cx="99.1" cy="448.2" r="1.8"/><circle cx="116.6" cy="447.2" r="1.8"/><circle cx="146.6" cy="446.7" r="1.8"/><circle cx="150.5" cy="447.5" r="1.8"/><circle cx="141.9" cy="448.6" r="1.8"/><circle cx="142.9" cy="450.4" r="1.8"/><circle cx="132.4" cy="449.7" r="1.8"/><circle cx="112.7" cy="449.4" r="1.8"/><circle cx="114.0" cy="451.6" r="1.8"/><circle cx="103.5" cy="451.1" r="1.8"/><circle cx="137.8" cy="451.4" r="1.8"/><circle cx="84.2" cy="455.5" r="1.8"/><circle cx="97.2" cy="455.2" r="1.8"/><circle cx="106.7" cy="456.7" r="1.8"/><circle cx="117.4" cy="456.7" r="1.8"/><circle cx="120.6" cy="455.1" r="1.8"/><circle cx="125.1" cy="455.2" r="1.8"/><circle cx="135.6" cy="454.8" r="1.8"/><circle cx="140.4" cy="454.0" r="1.8"/><circle cx="141.0" cy="455.2" r="1.8"/><circle cx="145.4" cy="457.0" r="1.8"/><circle cx="149.2" cy="454.8" r="1.8"/><circle cx="150.2" cy="456.2" r="1.8"/><circle cx="83.8" cy="458.7" r="1.8"/><circle cx="86.7" cy="458.4" r="1.8"/><circle cx="96.9" cy="459.9" r="1.8"/><circle cx="102.5" cy="459.9" r="1.8"/><circle cx="92.1" cy="461.3" r="1.8"/><circle cx="123.2" cy="461.1" r="1.8"/><circle cx="149.2" cy="461.3" r="1.8"/><circle cx="87.4" cy="462.1" r="1.8"/><circle cx="144.8" cy="462.6" r="1.8"/><circle cx="118.8" cy="463.3" r="1.8"/><circle cx="125.8" cy="464.5" r="1.8"/><circle cx="138.5" cy="463.6" r="1.8"/><circle cx="132.0" cy="464.8" r="1.8"/><circle cx="130.8" cy="466.5" r="1.8"/><circle cx="120.6" cy="465.9" r="1.8"/><circle cx="144.8" cy="466.2" r="1.8"/><circle cx="149.9" cy="466.5" r="1.8"/><circle cx="102.5" cy="466.5" r="1.8"/><circle cx="100.9" cy="467.7" r="1.8"/><circle cx="86.7" cy="468.4" r="1.8"/><circle cx="132.7" cy="468.4" r="1.8"/><circle cx="114.0" cy="469.4" r="1.8"/><circle cx="117.4" cy="470.3" r="1.8"/><circle cx="109.0" cy="470.9" r="1.8"/><circle cx="143.9" cy="470.2" r="1.8"/><circle cx="142.9" cy="471.3" r="1.8"/><circle cx="149.9" cy="470.3" r="1.8"/><circle cx="100.3" cy="470.9" r="1.8"/><circle cx="99.4" cy="473.5" r="1.8"/><circle cx="129.3" cy="471.8" r="1.8"/><circle cx="90.4" cy="473.1" r="1.8"/><circle cx="119.8" cy="474.2" r="1.8"/><circle cx="106.4" cy="475.4" r="1.8"/><circle cx="151.4" cy="475.4" r="1.8"/><circle cx="94.5" cy="476.1" r="1.8"/><circle cx="84.2" cy="477.9" r="1.8"/><circle cx="90.1" cy="478.2" r="1.8"/><circle cx="95.8" cy="478.6" r="1.8"/><circle cx="114.5" cy="478.6" r="1.8"/><circle cx="115.2" cy="480.1" r="1.8"/><circle cx="140.4" cy="477.5" r="1.8"/><circle cx="109.6" cy="481.6" r="1.8"/><circle cx="128.0" cy="481.1" r="1.8"/><circle cx="126.6" cy="482.6" r="1.8"/><circle cx="99.8" cy="484.0" r="1.8"/><circle cx="135.6" cy="484.8" r="1.8"/><circle cx="97.2" cy="486.4" r="1.8"/><circle cx="111.8" cy="486.2" r="1.8"/><circle cx="119.5" cy="485.6" r="1.8"/><circle cx="121.5" cy="486.9" r="1.8"/><circle cx="148.0" cy="486.2" r="1.8"/><circle cx="132.7" cy="487.4" r="1.8"/><circle cx="83.5" cy="488.9" r="1.8"/><circle cx="87.9" cy="488.1" r="1.8"/><circle cx="102.8" cy="488.4" r="1.8"/><circle cx="95.2" cy="491.5" r="1.8"/><circle cx="151.4" cy="491.0" r="1.8"/><circle cx="150.7" cy="492.2" r="1.8"/><circle cx="129.5" cy="493.7" r="1.8"/><circle cx="143.6" cy="493.7" r="1.8"/><circle cx="98.8" cy="495.4" r="1.8"/><circle cx="105.2" cy="495.4" r="1.8"/><circle cx="135.6" cy="495.1" r="1.8"/><circle cx="120.7" cy="497.3" r="1.8"/><circle cx="86.0" cy="497.6" r="1.8"/><circle cx="133.9" cy="497.6" r="1.8"/><circle cx="92.1" cy="498.6" r="1.8"/><circle cx="150.7" cy="498.6" r="1.8"/><circle cx="151.4" cy="499.5" r="1.8"/><circle cx="115.9" cy="500.2" r="1.8"/><circle cx="101.6" cy="503.4" r="1.8"/><circle cx="103.2" cy="504.5" r="1.8"/><circle cx="112.3" cy="503.4" r="1.8"/><circle cx="117.8" cy="503.0" r="1.8"/><circle cx="116.6" cy="504.6" r="1.8"/><circle cx="127.6" cy="503.1" r="1.8"/><circle cx="144.4" cy="504.2" r="1.8"/><circle cx="124.4" cy="506.4" r="1.8"/><circle cx="123.6" cy="507.5" r="1.8"/><circle cx="141.0" cy="507.8" r="1.8"/><circle cx="87.2" cy="508.6" r="1.8"/><circle cx="102.8" cy="509.7" r="1.8"/><circle cx="105.2" cy="510.0" r="1.8"/><circle cx="113.0" cy="510.7" r="1.8"/><circle cx="106.0" cy="512.9" r="1.8"/><circle cx="84.2" cy="515.1" r="1.8"/><circle cx="93.6" cy="515.1" r="1.8"/><circle cx="126.6" cy="514.1" r="1.8"/><circle cx="127.3" cy="516.6" r="1.8"/><circle cx="136.6" cy="519.5" r="1.8"/><circle cx="111.2" cy="521.7" r="1.8"/><circle cx="110.1" cy="523.6" r="1.8"/><circle cx="126.6" cy="523.1" r="1.8"/><circle cx="117.4" cy="525.0" r="1.8"/><circle cx="149.2" cy="525.8" r="1.8"/><circle cx="122.2" cy="526.9" r="1.8"/><circle cx="101.6" cy="527.3" r="1.8"/><circle cx="98.8" cy="528.0" r="1.8"/><circle cx="93.3" cy="529.2" r="1.8"/><circle cx="94.7" cy="529.5" r="1.8"/><circle cx="108.6" cy="530.2" r="1.8"/><circle cx="83.5" cy="531.4" r="1.8"/><circle cx="142.9" cy="531.2" r="1.8"/><circle cx="127.9" cy="537.1" r="1.8"/><circle cx="140.4" cy="540.4" r="1.8"/><circle cx="106.4" cy="543.4" r="1.8"/><circle cx="131.7" cy="543.4" r="1.8"/><circle cx="135.3" cy="544.4" r="1.8"/><circle cx="87.4" cy="545.1" r="1.8"/><circle cx="138.8" cy="546.6" r="1.8"/><circle cx="142.2" cy="546.3" r="1.8"/><circle cx="104.2" cy="547.0" r="1.8"/><circle cx="131.7" cy="547.5" r="1.8"/><circle cx="92.8" cy="548.9" r="1.8"/><circle cx="85.2" cy="549.6" r="1.8"/><circle cx="84.5" cy="551.7" r="1.8"/><circle cx="110.4" cy="550.7" r="1.8"/><circle cx="106.8" cy="554.6" r="1.8"/><circle cx="101.0" cy="555.5" r="1.8"/><circle cx="146.3" cy="557.7" r="1.8"/><circle cx="109.6" cy="558.2" r="1.8"/><circle cx="116.6" cy="558.4" r="1.8"/><circle cx="100.3" cy="559.1" r="1.8"/><circle cx="134.2" cy="561.6" r="1.8"/><circle cx="120.3" cy="562.8" r="1.8"/><circle cx="121.0" cy="566.0" r="1.8"/><circle cx="141.9" cy="571.5" r="1.8"/><circle cx="112.3" cy="573.6" r="1.8"/><circle cx="126.1" cy="576.2" r="1.8"/><circle cx="115.6" cy="577.4" r="1.8"/><circle cx="112.0" cy="582.3" r="1.8"/><circle cx="127.9" cy="583.2" r="1.8"/><circle cx="142.6" cy="584.2" r="1.8"/><circle cx="141.9" cy="585.7" r="1.8"/><circle cx="119.3" cy="595.5" r="1.8"/><circle cx="249.7" cy="424.0" r="1.8"/><circle cx="224.9" cy="432.1" r="1.8"/><circle cx="260.9" cy="430.5" r="1.8"/><circle cx="287.5" cy="436.1" r="1.8"/><circle cx="277.7" cy="438.6" r="1.8"/><circle cx="285.8" cy="441.2" r="1.8"/><circle cx="287.2" cy="445.6" r="1.8"/><circle cx="267.1" cy="445.9" r="1.8"/><circle cx="249.7" cy="446.3" r="1.8"/><circle cx="247.5" cy="448.2" r="1.8"/><circle cx="243.0" cy="448.8" r="1.8"/><circle cx="232.9" cy="448.2" r="1.8"/><circle cx="232.0" cy="451.0" r="1.8"/><circle cx="279.5" cy="448.2" r="1.8"/><circle cx="276.7" cy="450.4" r="1.8"/><circle cx="266.3" cy="451.4" r="1.8"/><circle cx="229.6" cy="455.5" r="1.8"/><circle cx="230.6" cy="457.7" r="1.8"/><circle cx="248.8" cy="456.2" r="1.8"/><circle cx="262.4" cy="455.5" r="1.8"/><circle cx="261.7" cy="459.9" r="1.8"/><circle cx="260.6" cy="462.4" r="1.8"/><circle cx="238.7" cy="460.9" r="1.8"/><circle cx="242.2" cy="464.1" r="1.8"/><circle cx="287.2" cy="465.3" r="1.8"/><circle cx="226.3" cy="466.3" r="1.8"/><circle cx="230.6" cy="469.7" r="1.8"/><circle cx="269.0" cy="474.5" r="1.8"/><circle cx="235.8" cy="475.5" r="1.8"/><circle cx="244.2" cy="475.5" r="1.8"/><circle cx="220.8" cy="479.8" r="1.8"/><circle cx="220.8" cy="481.3" r="1.8"/><circle cx="227.4" cy="479.6" r="1.8"/><circle cx="230.3" cy="480.3" r="1.8"/><circle cx="233.2" cy="482.5" r="1.8"/><circle cx="255.8" cy="479.6" r="1.8"/><circle cx="273.1" cy="478.8" r="1.8"/><circle cx="244.2" cy="482.0" r="1.8"/><circle cx="265.3" cy="482.5" r="1.8"/><circle cx="249.0" cy="483.9" r="1.8"/><circle cx="268.2" cy="484.2" r="1.8"/><circle cx="278.9" cy="484.2" r="1.8"/><circle cx="274.5" cy="485.7" r="1.8"/><circle cx="244.6" cy="486.1" r="1.8"/><circle cx="250.4" cy="486.9" r="1.8"/><circle cx="265.0" cy="486.9" r="1.8"/><circle cx="228.4" cy="489.3" r="1.8"/><circle cx="257.3" cy="490.1" r="1.8"/><circle cx="255.1" cy="491.8" r="1.8"/><circle cx="239.0" cy="491.5" r="1.8"/><circle cx="238.7" cy="494.4" r="1.8"/><circle cx="223.3" cy="492.2" r="1.8"/><circle cx="270.4" cy="493.7" r="1.8"/><circle cx="254.1" cy="496.2" r="1.8"/><circle cx="220.5" cy="497.4" r="1.8"/><circle cx="222.2" cy="498.5" r="1.8"/><circle cx="286.5" cy="499.3" r="1.8"/><circle cx="257.7" cy="499.8" r="1.8"/><circle cx="263.1" cy="499.3" r="1.8"/><circle cx="260.9" cy="501.0" r="1.8"/><circle cx="268.2" cy="500.0" r="1.8"/><circle cx="265.0" cy="502.2" r="1.8"/><circle cx="227.4" cy="501.3" r="1.8"/><circle cx="247.8" cy="501.3" r="1.8"/><circle cx="233.2" cy="503.9" r="1.8"/><circle cx="284.0" cy="506.1" r="1.8"/><circle cx="270.1" cy="507.3" r="1.8"/><circle cx="230.0" cy="508.6" r="1.8"/><circle cx="254.4" cy="508.6" r="1.8"/><circle cx="273.1" cy="510.1" r="1.8"/><circle cx="252.9" cy="510.5" r="1.8"/><circle cx="230.0" cy="512.2" r="1.8"/><circle cx="232.0" cy="511.7" r="1.8"/><circle cx="251.9" cy="513.1" r="1.8"/><circle cx="253.9" cy="515.3" r="1.8"/><circle cx="258.7" cy="515.6" r="1.8"/><circle cx="261.2" cy="515.3" r="1.8"/><circle cx="241.5" cy="516.0" r="1.8"/><circle cx="278.9" cy="517.4" r="1.8"/><circle cx="249.0" cy="519.0" r="1.8"/><circle cx="268.7" cy="520.4" r="1.8"/><circle cx="284.3" cy="521.7" r="1.8"/><circle cx="263.1" cy="522.9" r="1.8"/><circle cx="287.5" cy="525.1" r="1.8"/><circle cx="230.3" cy="525.5" r="1.8"/><circle cx="278.7" cy="528.3" r="1.8"/><circle cx="238.6" cy="529.5" r="1.8"/><circle cx="229.1" cy="532.4" r="1.8"/><circle cx="266.8" cy="534.3" r="1.8"/><circle cx="260.2" cy="538.7" r="1.8"/><circle cx="230.7" cy="540.9" r="1.8"/><circle cx="233.6" cy="540.9" r="1.8"/><circle cx="272.6" cy="541.5" r="1.8"/><circle cx="279.9" cy="544.1" r="1.8"/><circle cx="280.2" cy="547.5" r="1.8"/><circle cx="226.6" cy="549.0" r="1.8"/><circle cx="246.3" cy="550.7" r="1.8"/><circle cx="240.1" cy="552.3" r="1.8"/><circle cx="279.2" cy="552.3" r="1.8"/><circle cx="287.2" cy="552.3" r="1.8"/><circle cx="237.3" cy="556.0" r="1.8"/><circle cx="237.1" cy="557.7" r="1.8"/><circle cx="258.3" cy="556.7" r="1.8"/><circle cx="280.4" cy="558.1" r="1.8"/><circle cx="241.5" cy="559.2" r="1.8"/><circle cx="249.0" cy="563.5" r="1.8"/><circle cx="238.0" cy="565.0" r="1.8"/><circle cx="225.2" cy="566.0" r="1.8"/><circle cx="225.5" cy="567.6" r="1.8"/><circle cx="242.4" cy="568.7" r="1.8"/><circle cx="262.7" cy="569.1" r="1.8"/><circle cx="237.3" cy="571.3" r="1.8"/><circle cx="271.4" cy="577.1" r="1.8"/><circle cx="270.4" cy="579.2" r="1.8"/><circle cx="264.9" cy="579.3" r="1.8"/><circle cx="279.2" cy="581.1" r="1.8"/><circle cx="246.8" cy="587.2" r="1.8"/><circle cx="255.1" cy="588.4" r="1.8"/><circle cx="267.9" cy="588.7" r="1.8"/><circle cx="275.2" cy="588.8" r="1.8"/><circle cx="229.6" cy="589.8" r="1.8"/><circle cx="253.3" cy="601.5" r="1.8"/><circle cx="255.1" cy="612.2" r="1.8"/></g>
<path class="ln" stroke="#303030" stroke-width="1.25" d="M35.5 389.0V622.3M34.9 622.3H336.8"/>
<path class="ln" stroke-width="1" d="M32.2 621.0H35.5"/>
<text class="ax" x="29.8" y="625.3" text-anchor="end">0.0</text>
<path class="ln" stroke-width="1" d="M32.2 575.4H35.5"/>
<text class="ax" x="29.8" y="579.7" text-anchor="end">0.5</text>
<path class="ln" stroke-width="1" d="M32.2 529.9H35.5"/>
<text class="ax" x="29.8" y="534.2" text-anchor="end">1.0</text>
<path class="ln" stroke-width="1" d="M32.2 484.3H35.5"/>
<text class="ax" x="29.8" y="488.6" text-anchor="end">1.5</text>
<path class="ln" stroke-width="1" d="M32.2 438.8H35.5"/>
<text class="ax" x="29.8" y="443.1" text-anchor="end">2.0</text>
<path class="ln" stroke-width="1" d="M32.2 393.2H35.5"/>
<text class="ax" x="29.8" y="397.5" text-anchor="end">2.5</text>
<path class="ln" stroke-width="1" d="M117.7 622.3V625.7"/>
<text class="ax" text-anchor="end" transform="translate(123.7,633.9) rotate(-45)">fresh</text>
<path class="ln" stroke-width="1" d="M254.7 622.3V625.7"/>
<text class="ax" text-anchor="end" transform="translate(260.7,633.9) rotate(-45)">dried</text>
<text class="yl" text-anchor="middle" transform="translate(8.3,506.0) rotate(-90)">Shannon index</text>
<path class="ln" stroke-width="0.65" d="M117.8 405.7V399.2H254.6V405.7"/>
<text class="br" text-anchor="middle" x="186.3" y="397.2">9.54e−06</text>
<text class="cp" text-anchor="end" x="337.5" y="680.0" xml:space="preserve">pwc: <tspan font-weight="bold">Wilcoxon test</tspan>; p.adjust: <tspan font-weight="bold">None</tspan></text>
</g>
<g id="panel-d">
<text class="ti" x="390.0" y="358.2" xml:space="preserve">d  Impact of Shipping Methods on Simpson Index</text>
<text class="su" x="390.3" y="377.7" xml:space="preserve">Kruskal−Wallis, <tspan dx="0.6" font-style="italic">χ</tspan><tspan dx="0.5" dy="-5.7" font-size="8px">2</tspan><tspan dx="0.0" dy="5.7">(1) = 7.95, </tspan><tspan dx="-0.4" font-style="italic">p</tspan><tspan dx="0.8"> = 0.0048, </tspan><tspan dx="1.0" font-style="italic">n</tspan><tspan dx="1.2"> = 345</tspan></text>
<path class="ln" stroke-width="1.2" d="M470.5 399.7V427.0M470.5 485.3V568.4"/>
<rect class="ln" stroke-width="1.25" x="423.7" y="427.0" width="93.7" height="58.3" fill="#fff"/>
<path class="ln" stroke-width="2.1" d="M423.7 448.3H517.4"/>
<path class="ln" stroke-width="1.2" d="M604.6 407.0V440.4M604.6 501.7V591.7"/>
<rect class="ln" stroke-width="1.25" x="557.6" y="440.4" width="94.0" height="61.3" fill="#fff"/>
<path class="ln" stroke-width="2.1" d="M557.6 461.7H651.6"/>
<g class="d"><circle cx="443.4" cy="400.4" r="1.8"/><circle cx="464.1" cy="401.0" r="1.8"/><circle cx="449.3" cy="406.1" r="1.8"/><circle cx="453.5" cy="406.8" r="1.8"/><circle cx="449.1" cy="409.1" r="1.8"/><circle cx="447.2" cy="410.0" r="1.8"/><circle cx="445.4" cy="411.3" r="1.8"/><circle cx="477.7" cy="410.2" r="1.8"/><circle cx="437.7" cy="412.0" r="1.8"/><circle cx="438.3" cy="414.0" r="1.8"/><circle cx="438.3" cy="416.2" r="1.8"/><circle cx="471.8" cy="412.9" r="1.8"/><circle cx="459.6" cy="414.0" r="1.8"/><circle cx="458.6" cy="415.9" r="1.8"/><circle cx="453.9" cy="417.5" r="1.8"/><circle cx="453.1" cy="418.1" r="1.8"/><circle cx="439.4" cy="420.3" r="1.8"/><circle cx="448.2" cy="420.6" r="1.8"/><circle cx="454.4" cy="421.7" r="1.8"/><circle cx="465.4" cy="419.4" r="1.8"/><circle cx="468.9" cy="420.3" r="1.8"/><circle cx="475.5" cy="419.2" r="1.8"/><circle cx="476.8" cy="421.4" r="1.8"/><circle cx="478.5" cy="423.2" r="1.8"/><circle cx="459.4" cy="422.8" r="1.8"/><circle cx="459.6" cy="425.8" r="1.8"/><circle cx="446.0" cy="424.3" r="1.8"/><circle cx="445.2" cy="425.8" r="1.8"/><circle cx="445.6" cy="428.0" r="1.8"/><circle cx="445.4" cy="429.8" r="1.8"/><circle cx="450.6" cy="425.2" r="1.8"/><circle cx="450.6" cy="427.6" r="1.8"/><circle cx="450.4" cy="429.9" r="1.8"/><circle cx="452.6" cy="430.6" r="1.8"/><circle cx="440.8" cy="428.0" r="1.8"/><circle cx="439.2" cy="430.0" r="1.8"/><circle cx="468.2" cy="426.5" r="1.8"/><circle cx="466.7" cy="428.0" r="1.8"/><circle cx="466.1" cy="429.6" r="1.8"/><circle cx="477.2" cy="426.7" r="1.8"/><circle cx="477.7" cy="428.9" r="1.8"/><circle cx="478.5" cy="430.9" r="1.8"/><circle cx="471.8" cy="428.2" r="1.8"/><circle cx="473.7" cy="431.1" r="1.8"/><circle cx="475.9" cy="432.0" r="1.8"/><circle cx="458.8" cy="433.0" r="1.8"/><circle cx="471.2" cy="433.7" r="1.8"/><circle cx="471.2" cy="436.8" r="1.8"/><circle cx="475.3" cy="436.4" r="1.8"/><circle cx="445.6" cy="435.7" r="1.8"/><circle cx="446.9" cy="437.2" r="1.8"/><circle cx="458.8" cy="440.3" r="1.8"/><circle cx="462.3" cy="441.8" r="1.8"/><circle cx="446.0" cy="442.3" r="1.8"/><circle cx="480.0" cy="439.9" r="1.8"/><circle cx="477.2" cy="442.8" r="1.8"/><circle cx="480.3" cy="443.8" r="1.8"/><circle cx="450.9" cy="446.2" r="1.8"/><circle cx="449.6" cy="447.5" r="1.8"/><circle cx="457.0" cy="446.0" r="1.8"/><circle cx="469.8" cy="446.5" r="1.8"/><circle cx="443.0" cy="448.2" r="1.8"/><circle cx="438.1" cy="450.0" r="1.8"/><circle cx="448.9" cy="450.0" r="1.8"/><circle cx="454.8" cy="449.5" r="1.8"/><circle cx="466.7" cy="450.0" r="1.8"/><circle cx="484.2" cy="404.7" r="1.8"/><circle cx="483.7" cy="406.2" r="1.8"/><circle cx="493.4" cy="405.6" r="1.8"/><circle cx="495.2" cy="409.6" r="1.8"/><circle cx="497.8" cy="409.4" r="1.8"/><circle cx="502.4" cy="414.1" r="1.8"/><circle cx="482.6" cy="415.0" r="1.8"/><circle cx="485.2" cy="416.4" r="1.8"/><circle cx="491.5" cy="417.9" r="1.8"/><circle cx="492.4" cy="420.6" r="1.8"/><circle cx="488.1" cy="420.3" r="1.8"/><circle cx="487.7" cy="422.8" r="1.8"/><circle cx="497.6" cy="419.9" r="1.8"/><circle cx="499.1" cy="422.3" r="1.8"/><circle cx="501.1" cy="419.7" r="1.8"/><circle cx="482.4" cy="423.4" r="1.8"/><circle cx="482.7" cy="425.2" r="1.8"/><circle cx="495.4" cy="423.4" r="1.8"/><circle cx="500.2" cy="424.3" r="1.8"/><circle cx="503.7" cy="425.4" r="1.8"/><circle cx="486.8" cy="427.1" r="1.8"/><circle cx="496.5" cy="426.7" r="1.8"/><circle cx="491.5" cy="428.0" r="1.8"/><circle cx="491.6" cy="430.4" r="1.8"/><circle cx="498.4" cy="430.2" r="1.8"/><circle cx="503.1" cy="429.3" r="1.8"/><circle cx="486.4" cy="434.4" r="1.8"/><circle cx="493.7" cy="434.3" r="1.8"/><circle cx="487.2" cy="436.8" r="1.8"/><circle cx="487.2" cy="438.6" r="1.8"/><circle cx="496.5" cy="438.4" r="1.8"/><circle cx="501.1" cy="439.0" r="1.8"/><circle cx="491.9" cy="441.9" r="1.8"/><circle cx="495.6" cy="445.4" r="1.8"/><circle cx="481.5" cy="445.6" r="1.8"/><circle cx="482.0" cy="447.2" r="1.8"/><circle cx="501.6" cy="447.2" r="1.8"/><circle cx="484.2" cy="448.7" r="1.8"/><circle cx="485.1" cy="450.4" r="1.8"/><circle cx="501.9" cy="450.0" r="1.8"/><circle cx="462.5" cy="453.1" r="1.8"/><circle cx="479.0" cy="453.5" r="1.8"/><circle cx="480.7" cy="456.4" r="1.8"/><circle cx="443.4" cy="459.0" r="1.8"/><circle cx="444.7" cy="461.2" r="1.8"/><circle cx="446.6" cy="460.9" r="1.8"/><circle cx="451.6" cy="461.6" r="1.8"/><circle cx="459.8" cy="461.6" r="1.8"/><circle cx="475.5" cy="458.5" r="1.8"/><circle cx="467.1" cy="459.9" r="1.8"/><circle cx="468.9" cy="460.3" r="1.8"/><circle cx="444.0" cy="466.0" r="1.8"/><circle cx="458.1" cy="465.3" r="1.8"/><circle cx="474.1" cy="465.6" r="1.8"/><circle cx="454.4" cy="467.5" r="1.8"/><circle cx="437.1" cy="469.1" r="1.8"/><circle cx="449.7" cy="470.6" r="1.8"/><circle cx="474.1" cy="471.7" r="1.8"/><circle cx="466.7" cy="474.4" r="1.8"/><circle cx="464.7" cy="475.9" r="1.8"/><circle cx="478.1" cy="476.3" r="1.8"/><circle cx="445.2" cy="480.7" r="1.8"/><circle cx="451.6" cy="481.2" r="1.8"/><circle cx="459.4" cy="483.6" r="1.8"/><circle cx="466.2" cy="483.4" r="1.8"/><circle cx="478.5" cy="486.2" r="1.8"/><circle cx="451.3" cy="488.1" r="1.8"/><circle cx="459.4" cy="489.1" r="1.8"/><circle cx="475.6" cy="488.4" r="1.8"/><circle cx="475.6" cy="490.8" r="1.8"/><circle cx="441.8" cy="493.1" r="1.8"/><circle cx="468.0" cy="495.2" r="1.8"/><circle cx="474.6" cy="495.0" r="1.8"/><circle cx="480.7" cy="495.0" r="1.8"/><circle cx="481.0" cy="497.6" r="1.8"/><circle cx="437.5" cy="502.5" r="1.8"/><circle cx="441.5" cy="503.4" r="1.8"/><circle cx="459.0" cy="502.9" r="1.8"/><circle cx="468.4" cy="501.4" r="1.8"/><circle cx="464.1" cy="506.9" r="1.8"/><circle cx="466.7" cy="507.0" r="1.8"/><circle cx="482.4" cy="451.9" r="1.8"/><circle cx="488.3" cy="452.2" r="1.8"/><circle cx="489.0" cy="458.5" r="1.8"/><circle cx="500.0" cy="458.3" r="1.8"/><circle cx="484.8" cy="461.9" r="1.8"/><circle cx="484.0" cy="464.0" r="1.8"/><circle cx="487.2" cy="465.6" r="1.8"/><circle cx="503.1" cy="464.0" r="1.8"/><circle cx="494.5" cy="465.4" r="1.8"/><circle cx="499.3" cy="467.3" r="1.8"/><circle cx="485.1" cy="468.0" r="1.8"/><circle cx="483.6" cy="469.1" r="1.8"/><circle cx="489.0" cy="470.7" r="1.8"/><circle cx="490.8" cy="471.7" r="1.8"/><circle cx="489.4" cy="473.9" r="1.8"/><circle cx="488.6" cy="476.3" r="1.8"/><circle cx="485.3" cy="477.9" r="1.8"/><circle cx="491.9" cy="480.5" r="1.8"/><circle cx="491.9" cy="482.1" r="1.8"/><circle cx="499.6" cy="484.0" r="1.8"/><circle cx="502.6" cy="486.6" r="1.8"/><circle cx="483.6" cy="491.7" r="1.8"/><circle cx="501.1" cy="495.7" r="1.8"/><circle cx="503.9" cy="498.3" r="1.8"/><circle cx="485.3" cy="498.8" r="1.8"/><circle cx="500.0" cy="500.7" r="1.8"/><circle cx="489.6" cy="503.8" r="1.8"/><circle cx="453.8" cy="513.5" r="1.8"/><circle cx="462.5" cy="513.0" r="1.8"/><circle cx="465.8" cy="515.3" r="1.8"/><circle cx="477.6" cy="514.3" r="1.8"/><circle cx="437.7" cy="518.9" r="1.8"/><circle cx="449.7" cy="527.3" r="1.8"/><circle cx="469.7" cy="527.8" r="1.8"/><circle cx="439.7" cy="531.2" r="1.8"/><circle cx="465.8" cy="537.5" r="1.8"/><circle cx="447.5" cy="540.9" r="1.8"/><circle cx="474.3" cy="542.8" r="1.8"/><circle cx="439.8" cy="544.3" r="1.8"/><circle cx="455.6" cy="550.7" r="1.8"/><circle cx="470.5" cy="550.1" r="1.8"/><circle cx="448.4" cy="552.4" r="1.8"/><circle cx="451.5" cy="558.0" r="1.8"/><circle cx="479.8" cy="557.5" r="1.8"/><circle cx="480.3" cy="562.7" r="1.8"/><circle cx="448.9" cy="565.0" r="1.8"/><circle cx="449.4" cy="568.6" r="1.8"/><circle cx="442.2" cy="574.0" r="1.8"/><circle cx="488.6" cy="514.2" r="1.8"/><circle cx="493.4" cy="524.5" r="1.8"/><circle cx="492.7" cy="539.9" r="1.8"/><circle cx="486.8" cy="541.3" r="1.8"/><circle cx="488.3" cy="554.5" r="1.8"/><circle cx="502.8" cy="559.9" r="1.8"/><circle cx="498.8" cy="562.3" r="1.8"/><circle cx="488.3" cy="581.3" r="1.8"/><circle cx="491.8" cy="581.9" r="1.8"/><circle cx="481.2" cy="595.5" r="1.8"/><circle cx="579.0" cy="409.4" r="1.8"/><circle cx="614.0" cy="406.6" r="1.8"/><circle cx="584.0" cy="418.6" r="1.8"/><circle cx="601.7" cy="417.3" r="1.8"/><circle cx="596.3" cy="417.6" r="1.8"/><circle cx="593.4" cy="418.9" r="1.8"/><circle cx="595.4" cy="421.7" r="1.8"/><circle cx="596.5" cy="424.6" r="1.8"/><circle cx="613.0" cy="421.5" r="1.8"/><circle cx="613.7" cy="424.2" r="1.8"/><circle cx="583.5" cy="425.0" r="1.8"/><circle cx="582.2" cy="427.9" r="1.8"/><circle cx="605.2" cy="424.6" r="1.8"/><circle cx="614.7" cy="429.9" r="1.8"/><circle cx="590.8" cy="430.5" r="1.8"/><circle cx="587.5" cy="433.1" r="1.8"/><circle cx="575.0" cy="432.9" r="1.8"/><circle cx="573.5" cy="436.2" r="1.8"/><circle cx="575.6" cy="437.8" r="1.8"/><circle cx="602.0" cy="436.5" r="1.8"/><circle cx="592.6" cy="438.6" r="1.8"/><circle cx="591.9" cy="441.1" r="1.8"/><circle cx="583.3" cy="442.0" r="1.8"/><circle cx="579.3" cy="443.2" r="1.8"/><circle cx="599.4" cy="443.5" r="1.8"/><circle cx="601.6" cy="445.2" r="1.8"/><circle cx="589.7" cy="444.2" r="1.8"/><circle cx="572.6" cy="445.9" r="1.8"/><circle cx="572.6" cy="447.9" r="1.8"/><circle cx="607.7" cy="447.2" r="1.8"/><circle cx="583.5" cy="447.4" r="1.8"/><circle cx="586.4" cy="447.0" r="1.8"/><circle cx="587.1" cy="448.8" r="1.8"/><circle cx="594.4" cy="447.4" r="1.8"/><circle cx="604.5" cy="448.5" r="1.8"/><circle cx="608.1" cy="453.1" r="1.8"/><circle cx="582.5" cy="453.6" r="1.8"/><circle cx="577.0" cy="454.9" r="1.8"/><circle cx="579.9" cy="457.5" r="1.8"/><circle cx="581.4" cy="459.3" r="1.8"/><circle cx="591.7" cy="457.7" r="1.8"/><circle cx="600.0" cy="459.5" r="1.8"/><circle cx="626.4" cy="409.1" r="1.8"/><circle cx="619.5" cy="411.9" r="1.8"/><circle cx="621.9" cy="417.6" r="1.8"/><circle cx="619.1" cy="420.2" r="1.8"/><circle cx="627.4" cy="424.4" r="1.8"/><circle cx="627.1" cy="433.2" r="1.8"/><circle cx="624.3" cy="434.4" r="1.8"/><circle cx="626.4" cy="440.4" r="1.8"/><circle cx="637.1" cy="444.2" r="1.8"/><circle cx="619.5" cy="450.3" r="1.8"/><circle cx="634.0" cy="453.6" r="1.8"/><circle cx="629.8" cy="456.8" r="1.8"/><circle cx="620.8" cy="459.0" r="1.8"/><circle cx="618.6" cy="460.0" r="1.8"/><circle cx="635.6" cy="459.0" r="1.8"/><circle cx="600.1" cy="462.3" r="1.8"/><circle cx="585.8" cy="463.5" r="1.8"/><circle cx="606.4" cy="463.5" r="1.8"/><circle cx="576.4" cy="467.0" r="1.8"/><circle cx="606.6" cy="470.2" r="1.8"/><circle cx="589.9" cy="471.2" r="1.8"/><circle cx="588.8" cy="473.1" r="1.8"/><circle cx="586.6" cy="474.0" r="1.8"/><circle cx="596.3" cy="474.7" r="1.8"/><circle cx="614.5" cy="474.9" r="1.8"/><circle cx="578.5" cy="477.1" r="1.8"/><circle cx="582.9" cy="476.5" r="1.8"/><circle cx="587.5" cy="477.1" r="1.8"/><circle cx="585.8" cy="483.4" r="1.8"/><circle cx="607.1" cy="484.3" r="1.8"/><circle cx="614.3" cy="484.1" r="1.8"/><circle cx="613.7" cy="486.3" r="1.8"/><circle cx="597.2" cy="487.4" r="1.8"/><circle cx="587.2" cy="489.8" r="1.8"/><circle cx="577.4" cy="494.0" r="1.8"/><circle cx="586.2" cy="496.0" r="1.8"/><circle cx="587.5" cy="496.6" r="1.8"/><circle cx="603.3" cy="503.7" r="1.8"/><circle cx="583.3" cy="508.4" r="1.8"/><circle cx="585.1" cy="513.3" r="1.8"/><circle cx="597.4" cy="515.3" r="1.8"/><circle cx="618.2" cy="463.9" r="1.8"/><circle cx="617.1" cy="467.0" r="1.8"/><circle cx="628.5" cy="468.0" r="1.8"/><circle cx="624.3" cy="477.5" r="1.8"/><circle cx="622.4" cy="479.5" r="1.8"/><circle cx="620.8" cy="481.3" r="1.8"/><circle cx="635.0" cy="477.8" r="1.8"/><circle cx="632.9" cy="483.0" r="1.8"/><circle cx="623.7" cy="503.4" r="1.8"/><circle cx="637.1" cy="506.7" r="1.8"/><circle cx="626.4" cy="515.3" r="1.8"/><circle cx="608.6" cy="518.1" r="1.8"/><circle cx="611.7" cy="519.6" r="1.8"/><circle cx="577.2" cy="526.2" r="1.8"/><circle cx="574.3" cy="528.9" r="1.8"/><circle cx="634.7" cy="529.2" r="1.8"/><circle cx="594.1" cy="533.3" r="1.8"/><circle cx="577.2" cy="536.6" r="1.8"/><circle cx="614.1" cy="536.1" r="1.8"/><circle cx="619.4" cy="537.4" r="1.8"/><circle cx="618.1" cy="539.4" r="1.8"/><circle cx="583.2" cy="539.7" r="1.8"/><circle cx="606.5" cy="544.2" r="1.8"/><circle cx="599.6" cy="545.3" r="1.8"/><circle cx="601.4" cy="552.3" r="1.8"/><circle cx="613.0" cy="551.8" r="1.8"/><circle cx="624.2" cy="555.2" r="1.8"/><circle cx="621.0" cy="559.0" r="1.8"/><circle cx="591.5" cy="570.5" r="1.8"/><circle cx="578.8" cy="572.4" r="1.8"/><circle cx="631.2" cy="574.8" r="1.8"/><circle cx="588.5" cy="580.4" r="1.8"/><circle cx="621.0" cy="586.1" r="1.8"/><circle cx="586.9" cy="592.2" r="1.8"/><circle cx="634.7" cy="592.2" r="1.8"/><circle cx="617.0" cy="599.3" r="1.8"/><circle cx="594.1" cy="612.2" r="1.8"/></g>
<path class="ln" stroke="#303030" stroke-width="1.25" d="M390.0 389.1V622.45M389.4 622.45H686.0"/>
<path class="ln" stroke-width="1" d="M386.7 621.9H390.0"/>
<text class="ax" x="384.3" y="626.2" text-anchor="end">0.00</text>
<path class="ln" stroke-width="1" d="M386.7 559.8H390.0"/>
<text class="ax" x="384.3" y="564.1" text-anchor="end">0.25</text>
<path class="ln" stroke-width="1" d="M386.7 497.6H390.0"/>
<text class="ax" x="384.3" y="501.9" text-anchor="end">0.50</text>
<path class="ln" stroke-width="1" d="M386.7 435.5H390.0"/>
<text class="ax" x="384.3" y="439.8" text-anchor="end">0.75</text>
<path class="ln" stroke-width="1" d="M470.6 622.45V625.9"/>
<text class="ax" text-anchor="end" transform="translate(476.6,634.0) rotate(-45)">fresh</text>
<path class="ln" stroke-width="1" d="M604.6 622.45V625.9"/>
<text class="ax" text-anchor="end" transform="translate(610.6,634.0) rotate(-45)">dried</text>
<text class="yl" text-anchor="middle" transform="translate(355.9,506.0) rotate(-90)">Simpson index</text>
<path class="ln" stroke-width="0.65" d="M470.6 406.1V399.7H604.6V406.1"/>
<text class="br" text-anchor="middle" x="537.8" y="397.4">0.00482</text>
<text class="cp" text-anchor="end" x="684.8" y="680.0" xml:space="preserve">pwc: <tspan font-weight="bold">Wilcoxon test</tspan>; p.adjust: <tspan font-weight="bold">None</tspan></text>
</g>
</svg></body></html>
